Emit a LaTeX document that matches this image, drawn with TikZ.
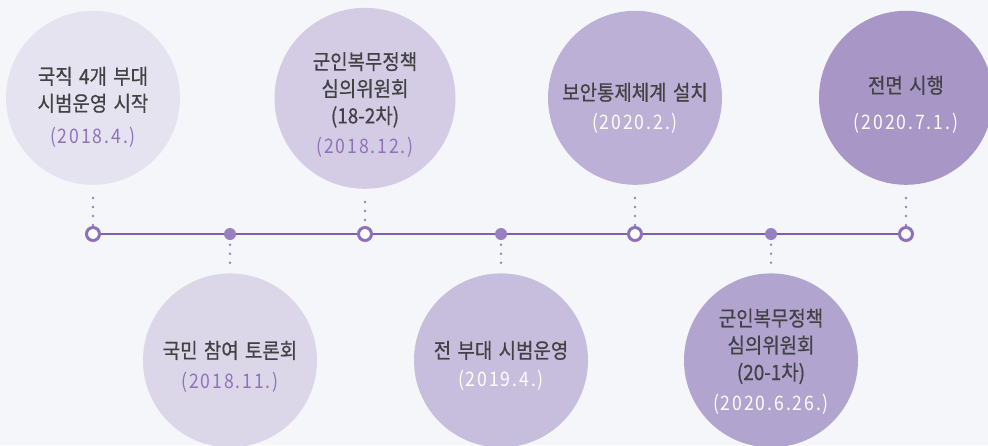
\documentclass[tikz,border=0pt]{standalone}
\usepackage{fontspec}
\setmainfont{Noto Sans CJK KR}[FakeStretch=0.9, FakeBold=0.6, WordSpace=1.5]
\newfontfamily\datefont{Noto Sans CJK KR}[FakeStretch=0.88, LetterSpace=9.5]
\usetikzlibrary{positioning}
\definecolor{bgpale}{RGB}{245,246,250}
\definecolor{linepurple}{RGB}{123,98,173}
\definecolor{markpurple}{RGB}{141,113,188}
\definecolor{dotpurple}{RGB}{152,128,192}
\definecolor{datepurple}{RGB}{142,114,186}
\definecolor{titlegray}{RGB}{66,66,68}
\definecolor{stepA}{RGB}{230,227,240}
\definecolor{stepB}{RGB}{220,214,233}
\definecolor{stepC}{RGB}{211,204,228}
\definecolor{stepD}{RGB}{199,190,221}
\definecolor{stepE}{RGB}{188,176,214}
\definecolor{stepF}{RGB}{177,164,207}
\definecolor{stepG}{RGB}{167,150,198}

\begin{document}
\begin{tikzpicture}[x=1pt, y=-1pt,
    bubble/.style={circle, fill=#1, minimum size=174pt, inner sep=0pt},
    evtitle/.style={font=\fontsize{21}{27}\selectfont, text=titlegray, align=center, inner sep=0pt},
    evdate/.style={font=\datefont\fontsize{20}{22}\selectfont, text=#1, inner sep=0pt},
    openmark/.style={circle, draw=markpurple, fill=white, line width=3pt, minimum size=13pt, inner sep=0pt},
    fullmark/.style={circle, fill=dotpurple, minimum size=12pt, inner sep=0pt},
    timeline/.style={draw=linepurple, line width=2.6pt},
    dotlink/.style={draw=dotpurple, line width=2.6pt, line cap=round, dash pattern=on 0pt off 9pt}
]
\path[use as bounding box, clip] (0,0) rectangle (988,445);
\fill[bgpale] (0,0) rectangle (988,445);

\node[openmark] (m1) at (93,234) {};
\node[fullmark] (m2) at (230,234) {};
\node[openmark] (m3) at (365,234) {};
\node[fullmark] (m4) at (501,234) {};
\node[openmark] (m5) at (635,234) {};
\node[fullmark] (m6) at (771,234) {};
\node[openmark] (m7) at (906,234) {};
\foreach \a/\b in {m1/m2, m2/m3, m3/m4, m4/m5, m5/m6, m6/m7}
    \draw[timeline] (\a) -- (\b);

\node[bubble=stepA, above=41pt of m1] (c1) {};
\node[bubble=stepB, below=33pt of m2] (c2) {};
\node[bubble=stepC, minimum size=181pt, above=37pt of m3] (c3) {};
\node[bubble=stepD, below=33pt of m4] (c4) {};
\node[bubble=stepE, above=41pt of m5] (c5) {};
\node[bubble=stepF, below=33pt of m6] (c6) {};
\node[bubble=stepG, above=41pt of m7] (c7) {};

\foreach \c/\m in {c1/m1, c3/m3, c5/m5, c7/m7}
    \draw[dotlink] ([yshift=-13pt]\c.south) -- ([yshift=1pt]\m.north);
\foreach \m/\c in {m2/c2, m4/c4, m6/c6}
    \draw[dotlink] ([yshift=-4.5pt]\m.south) -- ([yshift=10pt]\c.north);

\node[evtitle] (t1) at ([yshift=8pt]c1.center) {국직 4개 부대\\시범운영 시작};
\node[evdate=datepurple] (d1) at ([yshift=-39.5pt]c1.center) {(2018.4.)};
\node[evtitle] (t2) at ([yshift=10pt]c2.center) {국민 참여 토론회};
\node[evdate=datepurple] (d2) at ([yshift=-22pt]c2.center) {(2018.11.)};
\node[evtitle] (t3) at ([yshift=8.5pt]c3.center) {군인복무정책\\심의위원회\\(18-2차)};
\node[evdate=datepurple] (d3) at ([yshift=-49pt]c3.center) {(2018.12.)};
\node[evtitle] (t4) at ([yshift=10pt]c4.center) {전 부대 시범운영};
\node[evdate=white] (d4) at ([yshift=-20pt]c4.center) {(2019.4.)};
\node[evtitle] (t5) at ([yshift=5.5pt]c5.center) {보안통제체계 설치};
\node[evdate=white] (d5) at ([yshift=-25pt]c5.center) {(2020.2.)};
\node[evtitle] (t6) at ([yshift=14pt]c6.center) {군인복무정책\\심의위원회\\(20-1차)};
\node[evdate=white] (d6) at ([yshift=-43.5pt]c6.center) {(2020.6.26.)};
\node[evtitle] (t7) at ([yshift=12.5pt]c7.center) {전면 시행};
\node[evdate=white] (d7) at ([yshift=-25pt]c7.center) {(2020.7.1.)};
\end{tikzpicture}
\end{document}
